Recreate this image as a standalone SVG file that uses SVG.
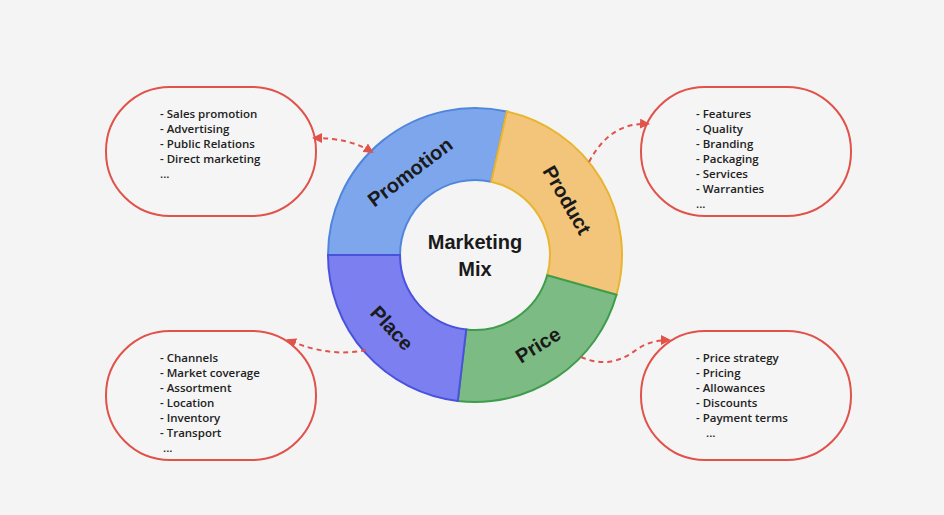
<svg xmlns="http://www.w3.org/2000/svg" width="944" height="515" viewBox="0 0 944 515">
<style>
.box{fill:#f5f5f5;stroke:#e0524a;stroke-width:2}
.bt{font-family:"Open Sans","Noto Sans",sans-serif;font-size:11.5px;font-weight:600;fill:#222}
.seg{stroke-width:2}
.lab{font-family:"Liberation Sans",Arial,sans-serif;font-size:20px;font-weight:bold;fill:#1a1a1a;text-anchor:middle;dominant-baseline:central}
.con{fill:none;stroke:#e0524a;stroke-width:2;stroke-dasharray:5,4}
</style>
<defs>
<marker id="ah" viewBox="0 0 10 10" refX="8" refY="5" markerWidth="5" markerHeight="5" orient="auto-start-reverse"><path d="M0,0 L10,5 L0,10 Z" fill="#e0524a"/></marker>
</defs>
<rect width="944" height="515" fill="#f4f4f4"/>
<g id="promotion"><path class="seg" d="M328,255 A147,147 0 0 1 506.8,111.5 L491.2,181.8 A75,75 0 0 0 400,255 Z" fill="#7ea6ec" stroke="#4f86dc"/><text class="lab" transform="translate(410,172) rotate(-37)">Promotion</text></g>
<g id="product"><path class="seg" d="M506.8,111.5 A147,147 0 0 1 616.5,294.8 L547.2,275.3 A75,75 0 0 0 491.2,181.8 Z" fill="#f2c57a" stroke="#e8b530"/><text class="lab" transform="translate(567,200) rotate(60)">Product</text></g>
<g id="price"><path class="seg" d="M616.5,294.8 A147,147 0 0 1 457.8,401 L466.2,329.5 A75,75 0 0 0 547.2,275.3 Z" fill="#7dbb85" stroke="#3e9d4c"/><text class="lab" transform="translate(538,345) rotate(-32)">Price</text></g>
<g id="place"><path class="seg" d="M457.8,401 A147,147 0 0 1 328,255 L400,255 A75,75 0 0 0 466.2,329.5 Z" fill="#7b7ff0" stroke="#4a52dc"/><text class="lab" transform="translate(392,328) rotate(47)">Place</text></g>
<g id="center"><text class="lab" x="475" y="242">Marketing</text><text class="lab" x="475" y="269">Mix</text></g>
<g id="box-promotion"><rect class="box" x="106" y="87" width="210" height="129" rx="64"/>
<text class="bt" x="160" y="118">- Sales promotion</text><text class="bt" x="160" y="133">- Advertising</text><text class="bt" x="160" y="148">- Public Relations</text><text class="bt" x="160" y="163">- Direct marketing</text><text class="bt" x="160" y="178">...</text></g>
<g id="box-product"><rect class="box" x="641" y="87" width="210" height="129" rx="64"/>
<text class="bt" x="696" y="118">- Features</text><text class="bt" x="696" y="133">- Quality</text><text class="bt" x="696" y="148">- Branding</text><text class="bt" x="696" y="163">- Packaging</text><text class="bt" x="696" y="178">- Services</text><text class="bt" x="696" y="193">- Warranties</text><text class="bt" x="696" y="208">...</text></g>
<g id="box-place"><rect class="box" x="106" y="331" width="210" height="129" rx="64"/>
<text class="bt" x="160" y="362">- Channels</text><text class="bt" x="160" y="377">- Market coverage</text><text class="bt" x="160" y="392">- Assortment</text><text class="bt" x="160" y="407">- Location</text><text class="bt" x="160" y="422">- Inventory</text><text class="bt" x="160" y="437">- Transport</text><text class="bt" x="163" y="452">...</text></g>
<g id="box-price"><rect class="box" x="641" y="331" width="210" height="129" rx="64"/>
<text class="bt" x="696" y="362">- Price strategy</text><text class="bt" x="696" y="377">- Pricing</text><text class="bt" x="696" y="392">- Allowances</text><text class="bt" x="696" y="407">- Discounts</text><text class="bt" x="696" y="422">- Payment terms</text><text class="bt" x="706" y="437">...</text></g>
<g id="connectors">
<path class="con" d="M314,138 Q350,138 372,152" marker-start="url(#ah)" marker-end="url(#ah)"/>
<path class="con" d="M589,162 Q610,122 648,124" marker-end="url(#ah)"/>
<path class="con" d="M366,350 Q330,358 288,340" marker-end="url(#ah)"/>
<path class="con" d="M581,357 Q610,370 636,350 Q650,340 669,340" marker-end="url(#ah)"/>
</g>
</svg>
